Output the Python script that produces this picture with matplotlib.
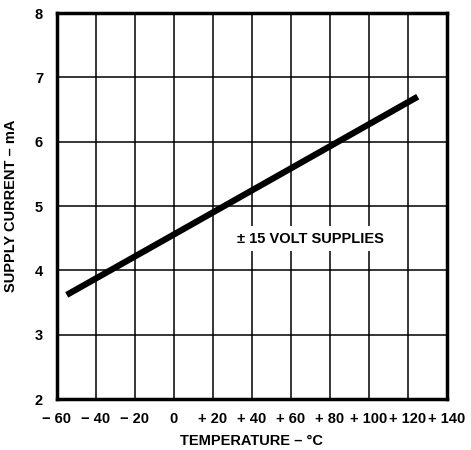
import matplotlib
matplotlib.use("Agg")
import matplotlib.pyplot as plt

# dati
temperature = [-55, 0, 125]
supply_current = [3.62, 4.56, 6.70]

x_ticks = [-60, -40, -20, 0, 20, 40, 60, 80, 100, 120, 140]
x_labels = ["\u2212 60", "\u2212 40", "\u2212 20", "0", "+ 20", "+ 40", "+ 60",
            "+ 80", "+ 100", "+ 120", "+ 140"]
y_ticks = [2, 3, 4, 5, 6, 7, 8]

plt.rcParams['font.family'] = ['Liberation Sans', 'DejaVu Sans']
plt.rcParams['font.weight'] = 'bold'

fig = plt.figure(figsize=(4.71, 4.5), dpi=100)
ax = fig.add_axes([0.121, 0.113, 0.828, 0.858])

ax.set_xlim(-60, 140)
ax.set_ylim(2, 8)
ax.set_xticks(x_ticks)
ax.set_xticklabels(x_labels)
ax.set_yticks(y_ticks)
ax.tick_params(length=0, labelsize=10.5)
ax.tick_params(axis='x', pad=9)
ax.tick_params(axis='y', pad=10)
ax.grid(True, color='black', linewidth=1.1)

for s in ax.spines.values():
    s.set_linewidth(2.5)

ax.plot(temperature, supply_current, color='black', linewidth=4.5,
        solid_capstyle='butt', zorder=3)

ax.text(70, 4.49, "\u00b1 15 VOLT SUPPLIES", ha='center', va='center',
        fontsize=10.5, fontweight='bold', zorder=4,
        bbox=dict(facecolor='white', edgecolor='none', pad=4))

ax.set_xlabel("TEMPERATURE \u2013 \u00b0C", fontsize=10.5, fontweight='bold', labelpad=6)
ax.set_ylabel("SUPPLY CURRENT \u2013 mA", fontsize=10.5, fontweight='bold', labelpad=12)

fig.savefig("out.png", dpi=100)
